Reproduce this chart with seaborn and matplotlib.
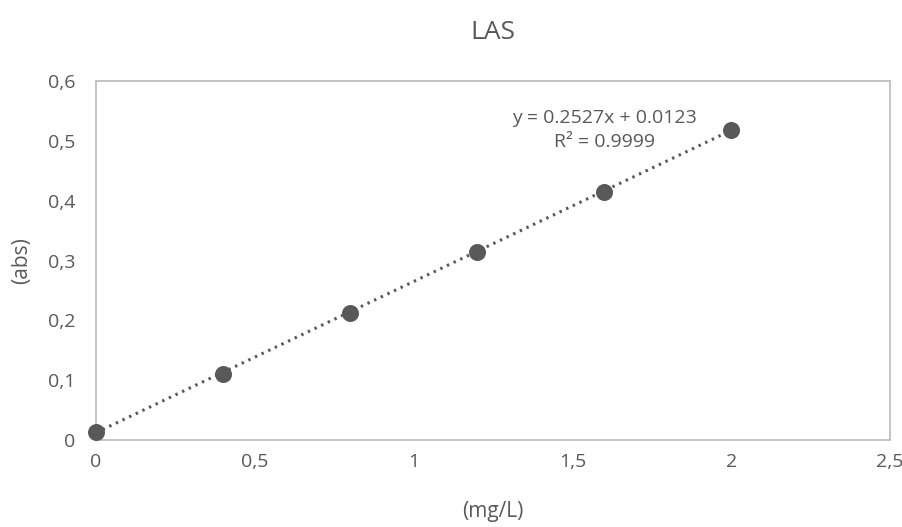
import numpy as np
import pandas as pd
import matplotlib
matplotlib.use('Agg')
import matplotlib.pyplot as plt
import seaborn as sns
from matplotlib.ticker import FuncFormatter

# data
conc = [0, 0.4, 0.8, 1.2, 1.6, 2.0]
absorb = [0.013, 0.111, 0.213, 0.314, 0.415, 0.518]
slope = 0.2527
intercept = 0.0123
r2 = 0.9999

df = pd.DataFrame({'conc': conc, 'abs': absorb})

sns.set_style('white')
plt.rcParams['font.family'] = ['Open Sans', 'DejaVu Sans']
grey = '#595959'
border = '#BFBFBF'

fig = plt.figure(figsize=(9.03, 5.27), dpi=100)
ax = fig.add_axes([0.1063, 0.165, 0.8793, 0.681])

# trendline from the displayed equation
xs = np.array([min(conc), max(conc)])
ax.plot(xs, slope * xs + intercept, linestyle=(0, (0.8, 1.6)), color=grey,
        linewidth=2.2, zorder=2)
sns.scatterplot(data=df, x='conc', y='abs', ax=ax, s=150, color=grey,
                edgecolor=grey, linewidth=0, zorder=3, clip_on=False)

ax.set_xlim(0, 2.5)
ax.set_ylim(0, 0.6)
ax.set_xticks(np.arange(0, 2.51, 0.5))
ax.set_yticks(np.arange(0, 0.61, 0.1))
fmt = FuncFormatter(lambda v, p: ('%g' % round(v, 2)).replace('.', ','))
ax.xaxis.set_major_formatter(fmt)
ax.yaxis.set_major_formatter(fmt)
ax.tick_params(axis='both', length=0, labelsize=14, colors=grey)
ax.tick_params(axis='x', pad=9)
ax.tick_params(axis='y', pad=15)

for sp in ax.spines.values():
    sp.set_color(border)
    sp.set_linewidth(1.3)

ax.set_xlabel('(mg/L)', fontsize=15, color=grey, labelpad=22)
ax.set_ylabel('(abs)', fontsize=15, color=grey, labelpad=11)
ax.set_title('LAS', fontsize=19, color=grey, pad=30)

ax.text(1.6, 0.518, 'y = %.4fx + %.4f\nR² = %.4f' % (slope, intercept, r2),
        ha='center', va='center', fontsize=14, color=grey, linespacing=1.45)

fig.savefig('out.png', dpi=100)
